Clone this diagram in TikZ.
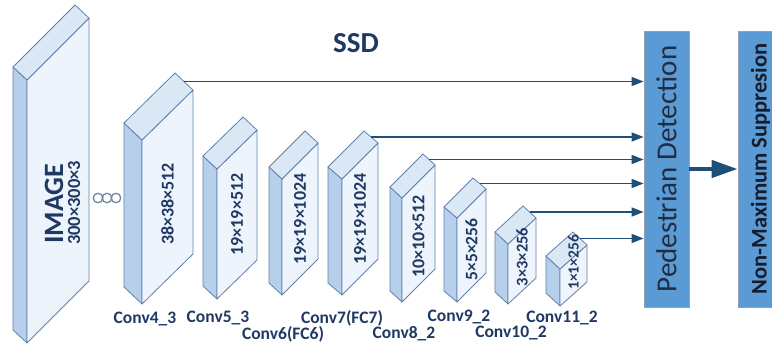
\documentclass[tikz,border=0pt]{standalone}
\usepackage{fontspec}
\setmainfont{Carlito}
\usetikzlibrary{arrows.meta}
\definecolor{labelnavy}{RGB}{31, 56, 100}
\definecolor{arrowblue}{RGB}{31, 78, 121}
\definecolor{edgeblue}{RGB}{98, 128, 170}
\definecolor{sideblue}{RGB}{182, 208, 235}
\definecolor{topblue}{RGB}{218, 231, 245}
\definecolor{faceblue}{RGB}{238, 244, 251}
\definecolor{boxblue}{RGB}{91, 155, 213}
\definecolor{boxedge}{RGB}{150, 160, 172}
\definecolor{dotgray}{RGB}{110, 135, 165}

\tikzset{
    sideface/.style={draw=edgeblue, fill=sideblue, line width=0.8pt, line join=round},
    topface/.style={draw=edgeblue, fill=topblue, line width=0.8pt, line join=round},
    mainface/.style={draw=edgeblue, fill=faceblue, line width=0.8pt, line join=round},
    facelabel/.style={rotate=90, inner sep=0pt, text=labelnavy, font=\bfseries\fontsize{#1}{#1}\selectfont},
    layerlabel/.style={inner sep=0pt, text=labelnavy, font=\bfseries\fontsize{17.5}{17.5}\selectfont},
    detectbox/.style={draw=boxedge, fill=boxblue, line width=0.8pt, minimum width=45pt, minimum height=276pt, inner sep=0pt},
    featarrow/.style={draw=arrowblue, line width=1.4pt, -{Triangle[length=12pt,width=9pt]}},
    dotcircle/.style={circle, draw=dotgray, line width=1.3pt, minimum size=9.5pt, inner sep=0pt}
}

\begin{document}
\begin{tikzpicture}[x=1pt, y=-1pt]
            \useasboundingbox (0,0) rectangle (772,347);
            \clip (0,0) rectangle (772,347);
            % Feature blocks: name / corner / side step / depth / height / text / size / shift
            \foreach \n/\ax/\ay/\ux/\uy/\vx/\vy/\h/\lab/\fs/\dy in {
                img/13/67/14/13/62/62/263/{}/18/0,
                c4/124/123/18/17/51/50/164/38×38×512/18/7,
                c5/203/156/14/13/40/39/130/19×19×512/18/0,
                c6/269/167/13/12/36/36/116/19×19×1024/18/0,
                c7/328/167/14/12/36/36/116/19×19×1024/18/0,
                c8/390/187/12/11/33/33/104/10×10×512/18/3,
                c9/444/207/13/11/29/29/84/5×5×256/17.5/4,
                c10/495/232/13/12/28/26/60/3×3×256/16.5/-4,
                c11/546/256/14/13/27/24/37/1×1×256/15.5/-13} {
                \filldraw[sideface] (\ax,\ay) -- ++(\ux,\uy) -- ++(0,\h) -- ++(-\ux,-\uy) -- cycle;
                \filldraw[mainface] ({\ax+\ux},{\ay+\uy}) -- ++(\vx,-\vy) -- ++(0,\h) -- ++(-\vx,\vy) -- cycle;
                \filldraw[topface] (\ax,\ay) -- ++(\ux,\uy) -- ++(\vx,-\vy) -- ++(-\ux,-\uy) -- cycle;
                \coordinate (\n-top) at ({\ax+\ux/2+\vx},{\ay+\uy/2-\vy});
                \node[facelabel=\fs] (\n-text) at ({\ax+\ux+\vx/2},{\ay+\uy-\vy/2+\h/2+\dy}) {\lab};
            }
            % Input text
            \node[rotate=90, anchor=base west, inner sep=0pt, text=labelnavy, font=\bfseries\fontsize{28}{28}\selectfont] (imgname) at (63,244) {IMAGE};
            \node[rotate=90, anchor=base west, inner sep=0pt, text=labelnavy, font=\bfseries\fontsize{18.5}{18.5}\selectfont] (imgsize) at (80,245) {300×300×3};
            % Dots between input and Conv4_3
            \foreach \i/\x in {1/98, 2/107, 3/116}
                \node[dotcircle] (dot\i) at (\x,198) {};
            % Layer names
            \foreach \n/\x/\y/\t in {conv4/145/319/Conv4\_3, conv5/218/318/Conv5\_3, conv6/283/334/Conv6(FC6),
                conv7/342/318/Conv7(FC7), conv8/404/334/Conv8\_2, conv9/459/317/Conv9\_2,
                conv10/511/333/Conv10\_2, conv11/562/318/Conv11\_2}
                \node[layerlabel] (\n) at (\x,\y) {\t};
            % Title
            \node[text=labelnavy, font=\bfseries\fontsize{29}{29}\selectfont] (title) at (356,43) {SSD};
            % Detection and NMS
            \node[detectbox] (ped) at (666.5,169) {};
            \node[rotate=90, text={rgb,255:red,35;green,45;blue,65}, font=\fontsize{29}{29}\selectfont] (pedtext) at (ped.center) {Pedestrian Detection};
            \node[detectbox] (nms) at (760.5,169) {};
            \node[rotate=90, text={rgb,255:red,20;green,28;blue,45}, font=\bfseries\fontsize{22.5}{22.5}\selectfont] (nmstext) at (nms.center) {Non-Maximum Suppresion};
            % Feature maps to detection
            \foreach \n in {c4, c7, c8, c9, c10, c11}
                \draw[featarrow] (\n-top) -- (\n-top -| ped.west);
            \draw[draw=arrowblue, line width=4.5pt, -{Triangle[length=26pt,width=17pt]}] (ped.east) -- (nms.west);
        \end{tikzpicture}
\end{document}
